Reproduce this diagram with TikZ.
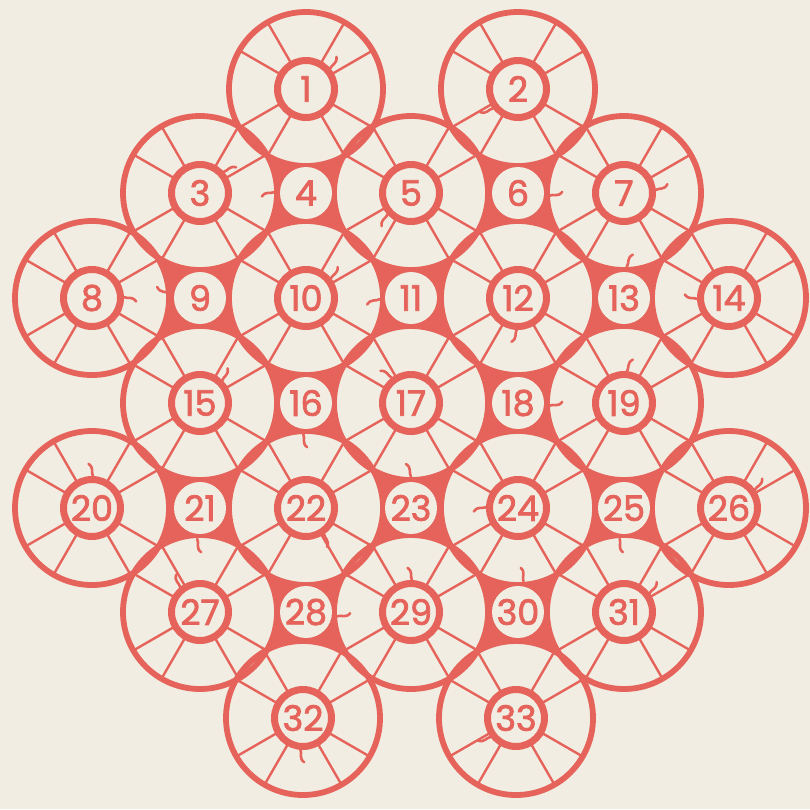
\documentclass[tikz,border=0pt]{standalone}
\usepackage{fontspec}
\newfontfamily\numfont{Poppins}[FakeBold=2.2]
\definecolor{rd}{RGB}{229,99,90}
\definecolor{bg}{RGB}{241,237,226}
\begin{document}
\begin{tikzpicture}[x=1pt,y=-1pt,
  numtext/.style={text=rd,font={\numfont\fontsize{35pt}{35pt}\selectfont}},
  wheelring/.style={circle,draw=rd,line width=7pt,fill=bg,inner sep=0pt,minimum size=57pt,numtext},
  gapdisc/.style={circle,fill=bg,inner sep=0pt,minimum size=52pt,numtext},
  spoke/.style={draw=rd,line width=2.4pt},
  rim/.style={draw=rd,line width=5.8pt},
  gapfill/.style={fill=rd},
  hk/.style={draw=rd,line width=2.6pt,line cap=round}]
\fill[bg] (0,0) rectangle (810,809);
\useasboundingbox (0,0) rectangle (810,809);
% positions
\foreach \n/\x/\y in {1/306/89,2/518/89,
  3/200/193,4/306/193,5/411/193,6/518/193,7/624/193,
  8/92/298,9/200/298,10/306/298,11/411/298,12/518/298,13/624/298,14/729/298,
  15/200/403,16/306/403,17/411/403,18/518/403,19/624/403,
  20/92/508,21/200/508,22/306/508,23/411/508,24/518/508,25/624/508,26/729/508,
  27/200/612,28/306/612,29/411/612,30/518/612,31/624/612,
  32/303/718,33/516/718}
  \coordinate (c\n) at (\x,\y);
% red gaps (up/left/down/right wheels)
\foreach \a/\b/\c/\d in {1/3/10/5,2/5/12/7,3/8/15/10,5/10/17/12,7/12/19/14,
  10/15/22/17,12/17/24/19,15/20/27/22,17/22/29/24,19/24/31/26,22/27/32/29,24/29/33/31}
  \fill[gapfill] (c\a) -- (c\b) -- (c\c) -- (c\d) -- cycle;
\def\wheels{1,2,3,5,7,8,10,12,14,15,17,19,20,22,24,26,27,29,31,32,33}
\foreach \w in \wheels \fill[bg] (c\w) circle[radius=77];
\foreach \w in \wheels
  \foreach \a in {30,60,120,150,210,240,300,330}
    \draw[spoke,shift={(c\w)}] (\a:28) -- (\a:77);
\foreach \w in \wheels \draw[rim] (c\w) circle[radius=77];
\foreach \w in \wheels \node[wheelring] (w\w) at (c\w) {\w};
\foreach \g in {4,6,9,11,13,16,18,21,23,25,28,30}
  \node[gapdisc] (g\g) at (c\g) {\g};
% small hook marks
\foreach \n/\ang/\s in {1/40/1,2/218/-1,3/42/-1,4/178/1,5/222/1,6/355/1,7/5/1,8/2/-1,
  9/172/-1,10/38/1,11/182/1,12/268/-1,13/85/-1,14/182/-1,15/45/1,16/265/1,17/127/1,
  18/355/1,19/85/-1,20/88/1,21/265/1,22/305/-1,23/90/1,24/178/1,25/262/1,26/35/1,
  27/129/-1,28/352/1,29/88/1,30/80/1,31/36/1,32/265/1,33/217/-1}
  \draw[hk,shift={(c\n)},rotate=\ang] (31pt,0pt) .. controls (36pt,2.5*\s pt) and (40pt,-1*\s pt) .. (44pt,5*\s pt);
\end{tikzpicture}
\end{document}
